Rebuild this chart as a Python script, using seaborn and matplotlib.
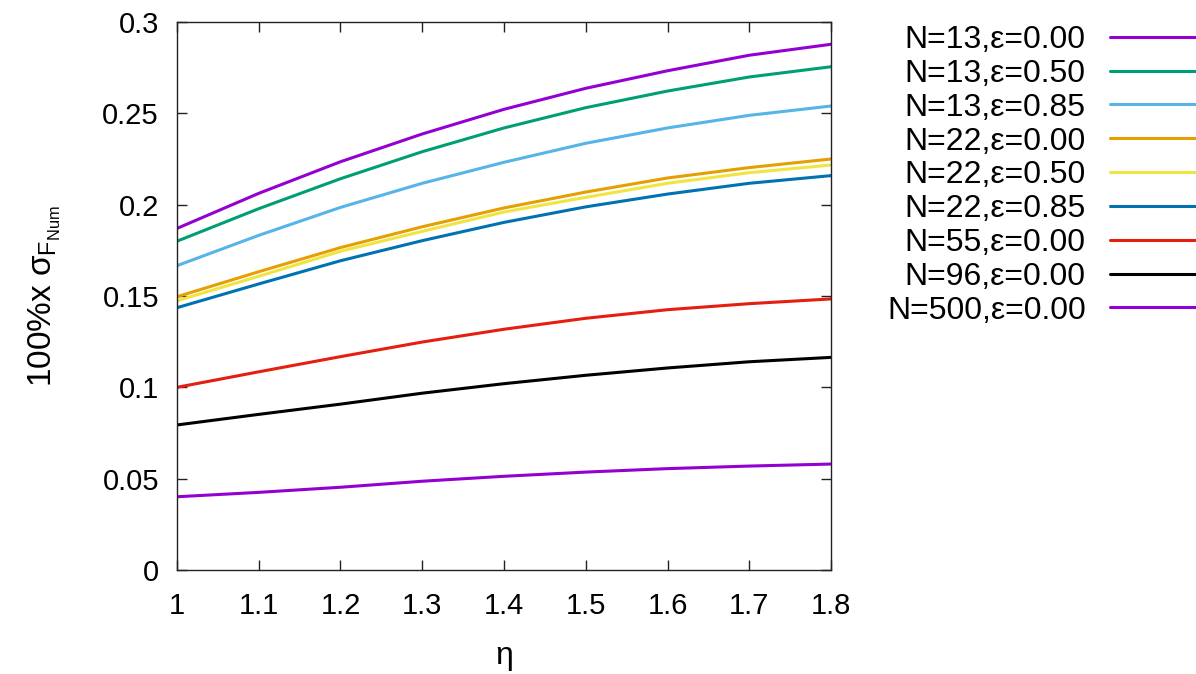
import matplotlib
matplotlib.use("Agg")
import matplotlib.pyplot as plt
import seaborn as sns
import pandas as pd
from matplotlib.ticker import FormatStrFormatter

# eta grid
eta = [1.0, 1.1, 1.2, 1.3, 1.4, 1.5, 1.6, 1.7, 1.8]

# 100% x sigma_F_Num for each (N, epsilon) case
n13_e000 = [0.1870, 0.2062, 0.2235, 0.2387, 0.2522, 0.2637, 0.2733, 0.2818, 0.2878]
n13_e050 = [0.1800, 0.1978, 0.2142, 0.2290, 0.2420, 0.2531, 0.2622, 0.2699, 0.2755]
n13_e085 = [0.1666, 0.1832, 0.1985, 0.2117, 0.2232, 0.2336, 0.2420, 0.2489, 0.2540]
n22_e000 = [0.1496, 0.1633, 0.1765, 0.1879, 0.1982, 0.2069, 0.2146, 0.2203, 0.2250]
n22_e050 = [0.1474, 0.1608, 0.1745, 0.1854, 0.1960, 0.2040, 0.2117, 0.2175, 0.2217]
n22_e085 = [0.1436, 0.1566, 0.1693, 0.1803, 0.1903, 0.1988, 0.2058, 0.2117, 0.2159]
n55_e000 = [0.1000, 0.1085, 0.1168, 0.1248, 0.1318, 0.1378, 0.1425, 0.1458, 0.1484]
n96_e000 = [0.0794, 0.0852, 0.0908, 0.0968, 0.1020, 0.1066, 0.1106, 0.1140, 0.1164]
n500_e000 = [0.0401, 0.0425, 0.0453, 0.0486, 0.0513, 0.0536, 0.0555, 0.0569, 0.0580]

labels = [
    "N=13,ε=0.00", "N=13,ε=0.50", "N=13,ε=0.85",
    "N=22,ε=0.00", "N=22,ε=0.50", "N=22,ε=0.85",
    "N=55,ε=0.00", "N=96,ε=0.00", "N=500,ε=0.00",
]
series = [n13_e000, n13_e050, n13_e085, n22_e000, n22_e050, n22_e085,
          n55_e000, n96_e000, n500_e000]
colors = ["#9400d3", "#009e73", "#56b4e9", "#e69f00", "#f0e442",
          "#0072b2", "#e51e10", "#000000", "#9400d3"]

y_ticks = [0, 0.05, 0.1, 0.15, 0.2, 0.25, 0.3]
x_ticks = [1.0, 1.1, 1.2, 1.3, 1.4, 1.5, 1.6, 1.7, 1.8]

df = pd.concat(
    [pd.DataFrame({"eta": eta, "sigma": s, "case": lab}) for lab, s in zip(labels, series)],
    ignore_index=True,
)

sns.set_style("ticks")
plt.rcParams["font.family"] = ["Liberation Sans", "DejaVu Sans"]
plt.rcParams["mathtext.fontset"] = "custom"
plt.rcParams["mathtext.rm"] = "Liberation Sans"
plt.rcParams["mathtext.it"] = "Liberation Sans"
plt.rcParams["mathtext.sf"] = "Liberation Sans"
for key in ("text.color", "axes.labelcolor", "xtick.color", "ytick.color"):
    plt.rcParams[key] = "black"

fig = plt.figure(figsize=(11.96, 6.74), dpi=100)
ax = fig.add_axes([177 / 1196, 1 - 570 / 674, (831 - 177) / 1196, (570 - 22) / 674])

sns.lineplot(data=df, x="eta", y="sigma", hue="case", hue_order=labels,
             palette=colors, linewidth=2.2, sort=False, ax=ax, legend=True)

ax.set_xlim(1.0, 1.8)
ax.set_ylim(0, 0.3)
ax.set_xticks(x_ticks)
ax.set_yticks(y_ticks)
ax.xaxis.set_major_formatter(FormatStrFormatter("%g"))
ax.yaxis.set_major_formatter(FormatStrFormatter("%g"))
ax.tick_params(axis="both", which="major", direction="in", length=7, width=1,
               top=True, right=True, labelsize=21, color="#222222")
ax.tick_params(axis="x", pad=16)
ax.tick_params(axis="y", pad=13)
for sp in ax.spines.values():
    sp.set_visible(True)
    sp.set_linewidth(1.0)
    sp.set_color("#222222")

ax.set_xlabel("η", fontsize=23, labelpad=15)
ax.set_ylabel(r"100%x $\sigma_{F_{\mathrm{Num}}}$", fontsize=24, labelpad=28)

handles, _ = ax.get_legend_handles_labels()
ax.legend(handles=handles, labels=labels, loc="upper right",
          bbox_to_anchor=(1.0, 1 - 25 / 674), bbox_transform=fig.transFigure,
          frameon=False, markerfirst=False, fontsize=23, handlelength=2.7,
          handletextpad=0.75, labelspacing=0.12, borderpad=0, borderaxespad=0)

fig.savefig("out.png", dpi=100)
